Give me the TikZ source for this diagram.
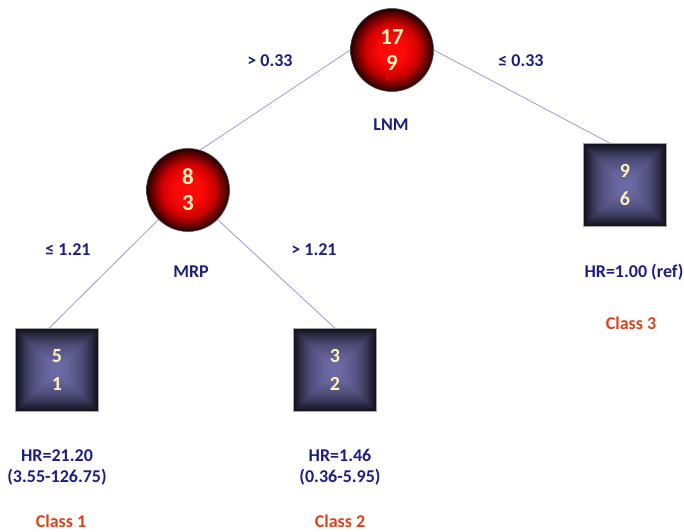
\documentclass[tikz,border=0pt]{standalone}
\usepackage{fontspec}
\setmainfont{Carlito}
\usetikzlibrary{calc}
\definecolor{navy}{HTML}{1E1E80}
\definecolor{classc}{HTML}{D9431C}
\definecolor{cream}{HTML}{FFF2B8}
\definecolor{edgec}{HTML}{9A9ACB}
\definecolor{sqc}{HTML}{6C6AA4}
\definecolor{sqe}{HTML}{0E0E18}
\definecolor{ballc}{HTML}{FF0808}
\definecolor{ballm}{HTML}{D00000}
\definecolor{balld}{HTML}{600000}
\definecolor{balle}{HTML}{220000}
\pgfdeclareradialshading{redball}{\pgfpoint{0bp}{0bp}}{color(0bp)=(ballc); color(8bp)=(ballc); color(16bp)=(ballm); color(22bp)=(balld); color(25bp)=(balle); color(50bp)=(balle)}
\tikzset{
  split/.style={circle, minimum size=83pt, inner sep=0pt, shade, shading=redball, draw=black!70, line width=0.6pt, text=cream, align=center, font=\fontsize{23}{26}\selectfont\bfseries},
  leaf/.style={rectangle, minimum size=83pt, inner sep=0pt, draw=gray!70, line width=0.6pt, text=cream, align=center, font=\fontsize{20}{28}\selectfont\bfseries,
    path picture={\foreach \i in {0,...,40}{
      \pgfmathsetmacro\h{42*(1-\i/41)}
      \pgfmathsetmacro\t{100*(1-(1-\i/40)^2)}
      \fill[sqc!\t!sqe] ([shift={(-\h pt,-\h pt)}]path picture bounding box.center) rectangle ([shift={(\h pt,\h pt)}]path picture bounding box.center);
    }}},
  lbl/.style={text=navy, align=center, font=\fontsize{18}{21}\selectfont\bfseries},
  cls/.style={text=classc, font=\fontsize{18}{21}\selectfont\bfseries},
  edge/.style={draw=edgec, line width=0.8pt}
}
\begin{document}
\begin{tikzpicture}[x=1pt,y=-1pt]
\useasboundingbox (0,0) rectangle (684,531);
\node[split] (root) at (392,50) {17\\9};
\node[split] (mrp) at (188,190) {8\\3};
\node[leaf] (leaf1) at (57,370) {5\\1};
\node[leaf] (leaf2) at (335,370) {3\\2};
\node[leaf] (leaf3) at (625,185) {9\\6};

\draw[edge] (root.180) -- (mrp.73);
\draw[edge] (root.0) -- ([xshift=-15pt]leaf3.north);
\draw[edge] (mrp.-135) -- ([xshift=-8pt]leaf1.north);
\draw[edge] (mrp.-45) -- (leaf2.north);

\node[lbl] (gt033) at (270,61) {> 0.33};
\node[lbl] (le033) at (521,61) {≤ 0.33};
\node[lbl] (lnm) at (391,125) {LNM};
\node[lbl] (le121) at (68,250) {≤ 1.21};
\node[lbl] (mrplbl) at (191,272) {MRP};
\node[lbl] (gt121) at (314,250) {> 1.21};
\node[lbl] (hr3) at (634,272) {HR=1.00 (ref)};
\node[cls] (class3) at (631,323) {Class 3};
\node[lbl] (hr1) at (57,467) {HR=21.20\\(3.55-126.75)};
\node[cls] (class1) at (61,521) {Class 1};
\node[lbl] (hr2) at (340,467) {HR=1.46\\(0.36-5.95)};
\node[cls] (class2) at (340,521) {Class 2};
\end{tikzpicture}
\end{document}
